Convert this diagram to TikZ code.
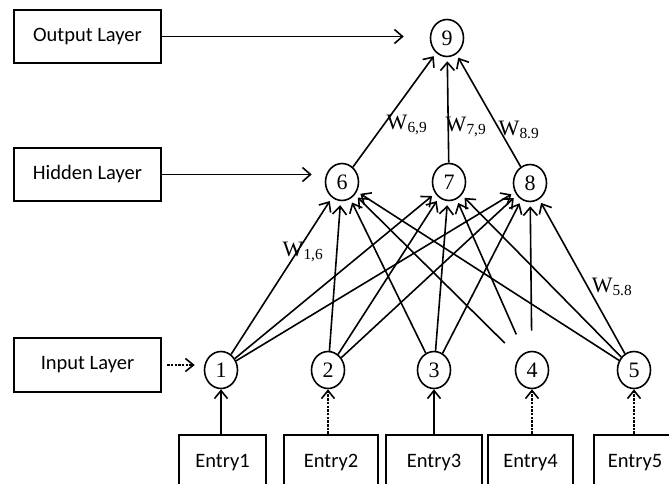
\documentclass[tikz,border=0pt]{standalone}
\usepackage{fontspec}
\setmainfont{Carlito}
\newfontfamily\tnr{Liberation Serif}
\usetikzlibrary{arrows.meta,shapes.geometric}
\tikzset{
  neuron/.style={draw,ellipse,line width=1.6pt,minimum width=33pt,minimum height=37pt,inner sep=0pt,
    font=\tnr\fontsize{22}{22}\selectfont},
  layerbox/.style={draw,line width=2.2pt,minimum width=147pt,minimum height=53pt,inner sep=0pt,
    font=\fontsize{20.5}{24}\selectfont},
  entrybox/.style={draw,line width=2.2pt,minimum height=55pt,inner sep=0pt,
    font=\fontsize{20.5}{24}\selectfont},
  syn/.style={-{Straight Barb[length=8pt,width=14pt,line width=1.6pt]},line width=1.6pt,shorten >=4pt},
  feed/.style={-{Straight Barb[length=8pt,width=13pt,line width=1.6pt]},line width=2pt},
  feeddash/.style={feed,dash pattern=on 2.5pt off 1.2pt},
  wlabel/.style={font=\tnr\fontsize{22}{22}\selectfont,inner sep=0pt}
}
\begin{document}
\begin{tikzpicture}[x=1pt,y=-1pt]
  \useasboundingbox (0,0) rectangle (669,484);
  % layer boxes
  \node[layerbox] (outbox) at (87.5,36.5) {Output Layer};
  \node[layerbox] (hidbox) at (87.5,174.5) {Hidden Layer};
  \node[layerbox,minimum height=54pt] (inbox) at (87.5,365) {Input Layer};
  % neurons
  \node[neuron] (n9) at (447,38) {9};
  \node[neuron] (n6) at (342,182) {6};
  \node[neuron] (n7) at (449,182) {7};
  \node[neuron] (n8) at (530,183) {8};
  \node[neuron] (n1) at (221,370) {1};
  \node[neuron] (n2) at (328,370) {2};
  \node[neuron] (n3) at (434,370) {3};
  \node[neuron] (n4) at (532,370) {4};
  \node[neuron] (n5) at (634,370) {5};
  % entries
  \node[entrybox,minimum width=87pt] (e1) at (222.5,462.5) {Entry1};
  \node[entrybox,minimum width=94pt] (e2) at (331,462.5) {Entry2};
  \node[entrybox,minimum width=96pt] (e3) at (434,462.5) {Entry3};
  \node[entrybox,minimum width=85pt] (e4) at (530.5,462.5) {Entry4};
  \node[entrybox,minimum width=82pt] (e5) at (635,462.5) {Entry5};
  % layer pointers
  \draw[syn,line width=1.8pt,shorten >=26pt] (outbox.east) -- (outbox.east -| n9.west);
  \draw[syn,line width=1.8pt,shorten >=13pt] (hidbox.east) -- (hidbox.east -| n6.west);
  \draw[feeddash,line width=2.4pt,shorten <=5pt,shorten >=9pt] (inbox.east) -- (inbox.east -| n1.west);
  % entries into input neurons
  \draw[feed] (e1.north -| n1) -- (n1);
  \draw[feeddash] (e2.north -| n2) -- (n2);
  \draw[feed] (e3.north -| n3) -- (n3);
  \draw[feeddash] (e4.north -| n4) -- (n4);
  \draw[feeddash] (e5.north -| n5) -- (n5);
  % weights
  \foreach \i in {1,2,3,5}
    \foreach \h in {6,7,8}
      \draw[syn] (n\i) -- (n\h);
  \foreach \h in {6,7,8}
    \draw[syn,shorten <=20pt] (n4) -- (n\h);
  \foreach \h in {6,7,8}
    \draw[syn] (n\h) -- (n9);
  % weight labels
  \node[wlabel] (w69) at (407,125) {W\textsubscript{6,9}};
  \node[wlabel] (w79) at (466,127) {W\textsubscript{7,9}};
  \node[wlabel] (w89) at (519,130) {W\textsubscript{8.9}};
  \node[wlabel] (w16) at (303,252) {W\textsubscript{1,6}};
  \node[wlabel] (w58) at (612,287) {W\textsubscript{5.8}};
\end{tikzpicture}
\end{document}
